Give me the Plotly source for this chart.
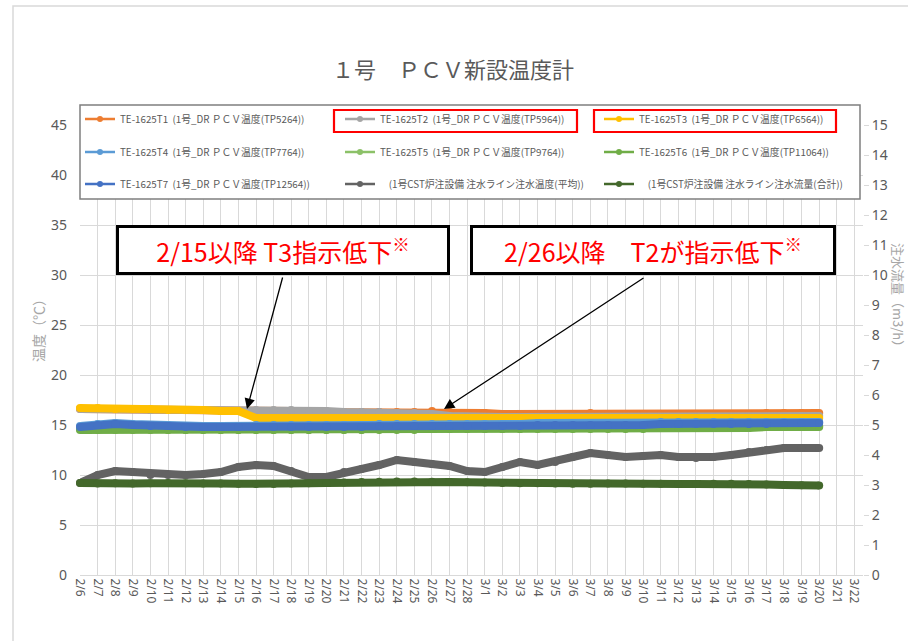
import plotly.graph_objects as go

# ---------------- data ----------------
dates = ["2023-02-%02d" % d for d in range(6, 29)] + ["2023-03-%02d" % d for d in range(1, 21)]

t1 = [16.6, 16.6, 16.6, 16.6, 16.5, 16.5, 16.5, 16.5, 16.4, 16.4,
      16.4, 16.4, 16.4, 16.3, 16.3, 16.3, 16.3, 16.3, 16.3, 16.3,
      16.4, 16.3, 16.2, 16.2, 16.1, 16.1, 16.1, 16.1, 16.1, 16.2,
      16.1, 16.1, 16.1, 16.1, 16.1, 16.1, 16.0, 16.1, 16.1, 16.2,
      16.2, 16.2, 16.2]
t2 = [16.6, 16.6, 16.6, 16.6, 16.5, 16.5, 16.5, 16.5, 16.4, 16.4,
      16.5, 16.5, 16.5, 16.4, 16.4, 16.3, 16.3, 16.3, 16.2, 16.2,
      16.1, 15.9, 15.8, 15.8, 15.8, 15.8, 15.8, 15.8, 15.8, 15.8,
      15.8, 15.8, 15.8, 15.8, 15.8, 15.8, 15.8, 15.8, 15.8, 15.8,
      15.8, 15.9, 15.9]
t3 = [16.7, 16.7, 16.6, 16.6, 16.6, 16.5, 16.5, 16.5, 16.4, 16.4,
      15.7, 15.7, 15.6, 15.6, 15.6, 15.6, 15.6, 15.5, 15.5, 15.5,
      15.5, 15.5, 15.5, 15.5, 15.5, 15.5, 15.5, 15.5, 15.5, 15.6,
      15.6, 15.6, 15.5, 15.5, 15.5, 15.6, 15.6, 15.6, 15.6, 15.6,
      15.6, 15.6, 15.7]
t4 = [14.9, 15.1, 15.2, 15.1, 15.0, 15.0, 14.9, 14.9, 14.9, 14.9,
      15.0, 15.0, 15.0, 15.0, 15.0, 15.0, 15.0, 15.1, 15.1, 15.1,
      15.1, 15.1, 15.1, 15.1, 15.1, 15.1, 15.2, 15.2, 15.2, 15.2,
      15.2, 15.2, 15.2, 15.3, 15.3, 15.3, 15.3, 15.3, 15.3, 15.3,
      15.3, 15.3, 15.3]
t5 = [14.6, 14.6, 14.6, 14.6, 14.6, 14.5, 14.5, 14.5, 14.5, 14.5,
      14.5, 14.5, 14.5, 14.5, 14.5, 14.5, 14.5, 14.6, 14.6, 14.6,
      14.6, 14.6, 14.6, 14.6, 14.6, 14.6, 14.7, 14.7, 14.7, 14.7,
      14.7, 14.7, 14.7, 14.7, 14.8, 14.8, 14.8, 14.8, 14.8, 14.8,
      14.9, 14.9, 14.9]
t6 = [14.5, 14.5, 14.5, 14.5, 14.5, 14.5, 14.5, 14.5, 14.5, 14.5,
      14.5, 14.5, 14.5, 14.5, 14.5, 14.5, 14.5, 14.5, 14.5, 14.5,
      14.6, 14.6, 14.6, 14.6, 14.6, 14.6, 14.6, 14.6, 14.6, 14.6,
      14.6, 14.6, 14.6, 14.7, 14.7, 14.7, 14.7, 14.7, 14.7, 14.8,
      14.8, 14.8, 14.8]
t7 = [14.8, 15.0, 15.1, 15.0, 14.9, 14.9, 14.8, 14.8, 14.8, 14.8,
      14.8, 14.8, 14.8, 14.8, 14.8, 14.8, 14.8, 14.9, 14.9, 14.9,
      14.9, 14.9, 14.9, 14.9, 14.9, 14.9, 15.0, 15.0, 15.0, 15.0,
      15.0, 15.0, 15.0, 15.1, 15.1, 15.1, 15.1, 15.1, 15.1, 15.1,
      15.2, 15.2, 15.2]
cst_temp = [9.2, 10.0, 10.4, 10.3, 10.0, 10.0, 10.0, 10.1, 10.3, 10.8,
            11.0, 10.9, 10.4, 9.8, 9.8, 10.3, 10.6, 11.0, 11.5, 11.3,
            11.1, 10.9, 10.4, 10.3, 10.8, 11.3, 11.0, 11.3, 11.8, 12.2,
            12.0, 11.8, 11.9, 12.0, 11.8, 11.7, 11.8, 12.0, 12.3, 12.5,
            12.7, 12.7, 12.7]
cst_flow = [3.07, 3.05, 3.06, 3.05, 3.06, 3.07, 3.06, 3.05, 3.05, 3.04,
            3.03, 3.03, 3.05, 3.06, 3.07, 3.08, 3.10, 3.11, 3.12, 3.12,
            3.11, 3.10, 3.09, 3.08, 3.07, 3.06, 3.06, 3.05, 3.04, 3.04,
            3.05, 3.05, 3.04, 3.04, 3.03, 3.03, 3.04, 3.04, 3.03, 3.02,
            3.00, 2.99, 2.98]

SP = "\u00a0\u00a0"
names = [
    "TE-1625T1" + SP + "(1号_DR ＰＣＶ温度(TP5264))",
    "TE-1625T2" + SP + "(1号_DR ＰＣＶ温度(TP5964))",
    "TE-1625T3" + SP + "(1号_DR ＰＣＶ温度(TP6564))",
    "TE-1625T4" + SP + "(1号_DR ＰＣＶ温度(TP7764))",
    "TE-1625T5" + SP + "(1号_DR ＰＣＶ温度(TP9764))",
    "TE-1625T6" + SP + "(1号_DR ＰＣＶ温度(TP11064))",
    "TE-1625T7" + SP + "(1号_DR ＰＣＶ温度(TP12564))",
    SP + SP + "(1号CST炉注設備 注水ライン注水温度(平均))",
    SP + SP + "(1号CST炉注設備 注水ライン注水流量(合計))",
]
colors = ["#ED7D31", "#A5A5A5", "#FFC000", "#5B9BD5", "#8CC168",
          "#70AD47", "#4472C4", "#636363", "#43682B"]
series = [t1, t2, t3, t4, t5, t6, t7, cst_temp, cst_flow]
axes = ["y"] * 8 + ["y2"]

title_text = "１号　ＰＣＶ新設温度計"
note1 = "2/15以降 T3指示低下<sup>※</sup>"
note2 = "2/26以降　T2が指示低下<sup>※</sup>"

# ---------------- layout helpers ----------------
W, H = 908, 641
L, R, T, B = 80, 45, 125, 66
PW, PH = W - L - R, H - T - B


def px(x):
    return (x - L) / PW


def py(y):
    return (H - B - y) / PH


FONT = "Noto Sans, Noto Sans CJK JP, sans-serif"
JP = "Noto Sans CJK JP, sans-serif"
GRAY = "#595959"

fig = go.Figure()

for s, c, ax in zip(series, colors, axes):
    fig.add_trace(go.Scatter(
        x=dates, y=s, yaxis=ax, mode="lines+markers",
        line=dict(color=c, width=8), marker=dict(color=c, size=8),
        showlegend=False, cliponaxis=False, hoverinfo="skip"))

# legend entries: one small legend per entry, laid out 3 x 3
col_x = [80, 340, 599]
row_y = [119, 152, 184]
legend_layout = {}
for i, (n, c) in enumerate(zip(names, colors)):
    lid = "legend" if i == 0 else "legend%d" % (i + 1)
    fig.add_trace(go.Scatter(
        x=[None], y=[None], mode="lines+markers", name=n, legend=lid,
        line=dict(color=c, width=2.5), marker=dict(color=c, size=6),
        showlegend=True))
    legend_layout[lid] = dict(
        orientation="v", xanchor="left", yanchor="middle",
        x=px(col_x[i % 3]), y=py(row_y[i // 3]),
        bgcolor="rgba(0,0,0,0)", borderwidth=0,
        font=dict(size=9.8, color=GRAY, family=JP),
        itemclick=False, itemdoubleclick=False)

shapes = [
    # outer chart border
    dict(type="rect", xref="paper", yref="paper", x0=px(13), x1=px(960),
         y0=py(700), y1=py(6), line=dict(color="#D9D9D9", width=1.5),
         layer="below"),
    # legend box
    dict(type="rect", xref="paper", yref="paper", x0=px(80), x1=px(860),
         y0=py(199), y1=py(105), line=dict(color="#7F7F7F", width=1.5),
         fillcolor="white", layer="above"),
    # red highlight boxes
    dict(type="rect", xref="paper", yref="paper", x0=px(334), x1=px(577),
         y0=py(132), y1=py(110), line=dict(color="#FF0000", width=2.2),
         layer="above"),
    dict(type="rect", xref="paper", yref="paper", x0=px(594), x1=px(836),
         y0=py(132), y1=py(110), line=dict(color="#FF0000", width=2.2),
         layer="above"),
]

annotations = [
    dict(text=note1, xref="paper", yref="paper", x=px(283), y=py(250),
         xanchor="center", yanchor="middle", showarrow=False,
         width=328, height=44, bgcolor="white", bordercolor="black",
         borderwidth=3, borderpad=0,
         font=dict(size=25, color="#FF0000", family=JP)),
    dict(text=note2, xref="paper", yref="paper", x=px(653), y=py(250),
         xanchor="center", yanchor="middle", showarrow=False,
         width=360, height=44, bgcolor="white", bordercolor="black",
         borderwidth=3, borderpad=0,
         font=dict(size=25, color="#FF0000", family=JP)),
    # arrows
    dict(text="", xref="paper", yref="paper", x=px(247), y=py(409),
         showarrow=True, ax=283 - 247, ay=276 - 409, arrowhead=2,
         arrowsize=1.6, arrowwidth=1.3, arrowcolor="black", standoff=0),
    dict(text="", xref="paper", yref="paper", x=px(444), y=py(409),
         showarrow=True, ax=645 - 444, ay=277 - 409, arrowhead=2,
         arrowsize=1.6, arrowwidth=1.3, arrowcolor="black", standoff=0),
    # axis titles
    dict(text="温度（℃）", xref="paper", yref="paper", x=px(38), y=py(327),
         textangle=-90, showarrow=False, xanchor="center", yanchor="middle",
         font=dict(size=14, color="#A6A6A6", family=JP)),
    dict(text="注水流量（m3/h）", xref="paper", yref="paper", x=px(899),
         y=py(298), textangle=90, showarrow=False, xanchor="center",
         yanchor="middle", font=dict(size=13, color="#A6A6A6", family=JP)),
]

fig.update_layout(
    width=W, height=H,
    margin=dict(l=L, r=R, t=T, b=B, autoexpand=False),
    paper_bgcolor="white", plot_bgcolor="white",
    font=dict(family=FONT, color=GRAY),
    title=dict(text=title_text, x=px(453), xref="paper", xanchor="center",
               y=1 - 70 / H, yanchor="middle",
               font=dict(size=22, color=GRAY, family=JP)),
    xaxis=dict(type="date", range=["2023-02-06 00:00", "2023-03-22 11:45"],
               tick0="2023-02-06", dtick=86400000, tickformat="%-m/%-d",
               tickangle=90, showgrid=True, gridcolor="#D9D9D9",
               gridwidth=1, showline=True, linecolor="#D9D9D9",
               ticks="", tickfont=dict(size=12, color=GRAY),
               zeroline=False, fixedrange=True),
    yaxis=dict(range=[0, 45], dtick=5, showgrid=True, gridcolor="#D9D9D9",
               zeroline=False, showline=False, ticks="",
               ticklabelstandoff=12,
               tickfont=dict(size=14, color=GRAY), fixedrange=True),
    yaxis2=dict(range=[0, 15], dtick=1, overlaying="y", side="right",
                showgrid=False, zeroline=False, showline=False,
                ticks="outside", ticklen=5, tickcolor="#D9D9D9",
                tickfont=dict(size=14, color=GRAY), fixedrange=True),
    shapes=shapes,
    annotations=annotations,
    showlegend=True,
    **legend_layout,
)

fig.write_html("out.html",
               config={"displayModeBar": False},
               post_script="document.body.style.margin='0px';")
